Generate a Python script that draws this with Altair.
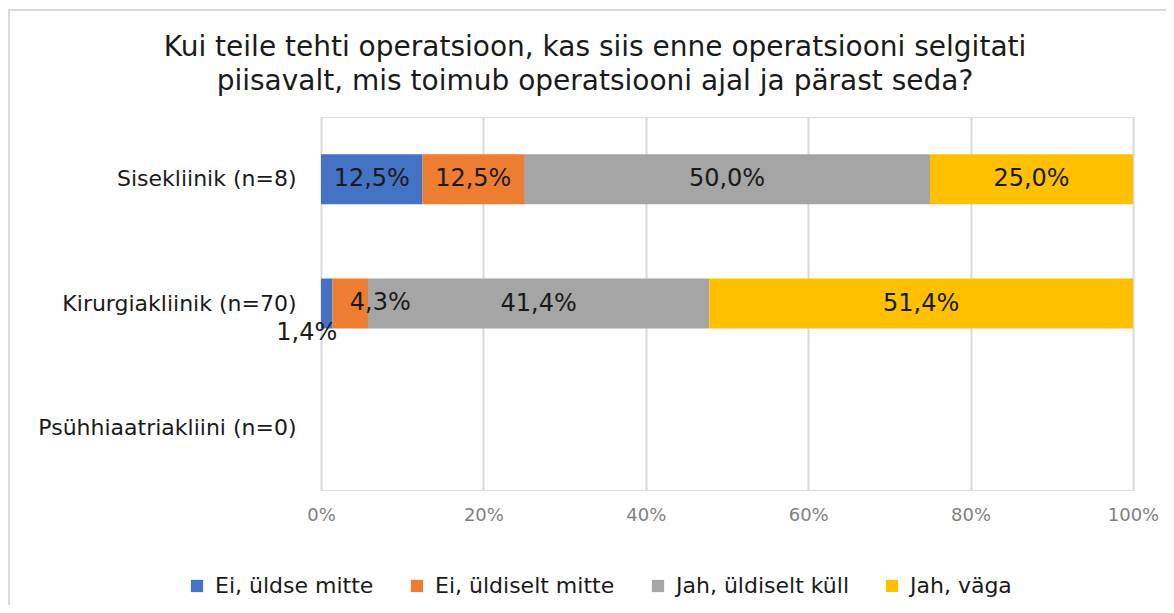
import altair as alt
import pandas as pd

categories = ["Sisekliinik (n=8)", "Kirurgiakliinik (n=70)", "Psühhiaatriakliini (n=0)"]
series = ["Ei, üldse mitte", "Ei, üldiselt mitte", "Jah, üldiselt küll", "Jah, väga"]
colors = ["#4472C4", "#ED7D31", "#A5A5A5", "#FFC000"]

sise_values = [12.5, 12.5, 50.0, 25.0]
kirurgia_values = [1.4, 4.3, 41.4, 51.4]
labels_sise = ["12,5%", "12,5%", "50,0%", "25,0%"]
labels_kirurgia = ["1,4%", "4,3%", "41,4%", "51,4%"]
x_ticks = [0, 0.2, 0.4, 0.6, 0.8, 1.0]

title_lines = ["Kui teile tehti operatsioon, kas siis enne operatsiooni selgitati",
               "piisavalt, mis toimub operatsiooni ajal ja pärast seda?"]

rows = []
for cat, vals, labs in [(categories[0], sise_values, labels_sise),
                        (categories[1], kirurgia_values, labels_kirurgia)]:
    for i, (s, v, l) in enumerate(zip(series, vals, labs)):
        rows.append({"category": cat, "series": s, "value": v, "label": l, "order": i})
df = pd.DataFrame(rows)

FONT = "DejaVu Sans"
YSCALE = alt.Scale(domain=categories, paddingInner=0.6, paddingOuter=0.3)
XSCALE = alt.Scale(domain=[0, 1], nice=False)

y_enc = alt.Y("category:N", scale=YSCALE,
              axis=alt.Axis(title=None, labelFontSize=22, labelColor="#1a1a1a", labelFont=FONT,
                            ticks=False, domain=False, labelPadding=25, grid=False, labelLimit=400))

bars = alt.Chart(df).mark_bar(size=50).encode(
    x=alt.X("value:Q", stack="normalize", scale=XSCALE,
            axis=alt.Axis(title=None, format=".0%", values=x_ticks, labelFontSize=18,
                          labelColor="#7f7f7f", labelFont=FONT, ticks=False, domain=False,
                          labelFlush=False, labelOverlap=False,
                          grid=True, gridColor="#d9d9d9", gridWidth=2, labelPadding=16)),
    y=y_enc,
    color=alt.Color("series:N", scale=alt.Scale(domain=series, range=colors),
                    legend=alt.Legend(title=None, orient="none", direction="horizontal",
                                      legendX=-135, legendY=458, columns=4, symbolType="square",
                                      symbolSize=150, symbolStrokeWidth=0, labelFontSize=22,
                                      labelFont=FONT, labelColor="#1a1a1a", columnPadding=32,
                                      labelOffset=7, padding=0, labelLimit=400)),
    order=alt.Order("order:Q"),
)

text_base = alt.Chart(df).transform_joinaggregate(
    total="sum(value)", groupby=["category"]
).transform_calculate(
    frac="datum.value / datum.total"
).transform_window(
    cum="sum(frac)", sort=[alt.SortField("order")], groupby=["category"], frame=[None, 0]
).transform_calculate(
    mid="datum.cum - datum.frac / 2"
)

text_enc = dict(
    x=alt.X("mid:Q", scale=XSCALE),
    y=alt.Y("category:N", scale=YSCALE),
    text="label:N",
)

text_main = text_base.transform_filter(
    "datum.label != '1,4%' && datum.label != '4,3%'"
).mark_text(fontSize=24, font=FONT, color="#1a1a1a").encode(**text_enc)

text_small1 = text_base.transform_filter("datum.label == '1,4%'").mark_text(
    fontSize=24, font=FONT, color="#1a1a1a", dx=-20, dy=29).encode(**text_enc)

text_small2 = text_base.transform_filter("datum.label == '4,3%'").mark_text(
    fontSize=24, font=FONT, color="#1a1a1a", dx=30, dy=-1).encode(**text_enc)

border_top = alt.Chart(pd.DataFrame({"k": [0]})).mark_rule(color="#d9d9d9", strokeWidth=2).encode(
    x=alt.value(-312), x2=alt.value(850), y=alt.value(-107)
)
border_left = alt.Chart(pd.DataFrame({"k": [0]})).mark_rule(color="#d9d9d9", strokeWidth=2).encode(
    x=alt.value(-312), y=alt.value(-108), y2=alt.value(500)
)

chart = alt.layer(bars, text_main, text_small1, text_small2, border_top, border_left).properties(
    width=812, height=373,
    title=alt.TitleParams(title_lines, fontSize=28, font=FONT, color="#1a1a1a", fontWeight="normal",
                          anchor="middle", frame="group", dx=-132, dy=112, offset=24, lineHeight=34),
    autosize=alt.AutoSizeParams(type="none"),
    padding={"left": 313, "top": 109, "right": 33, "bottom": 115},
).configure_view(stroke=None).configure(background="white")

chart.save("out.html", embed_options={"renderer": "svg", "actions": False})
